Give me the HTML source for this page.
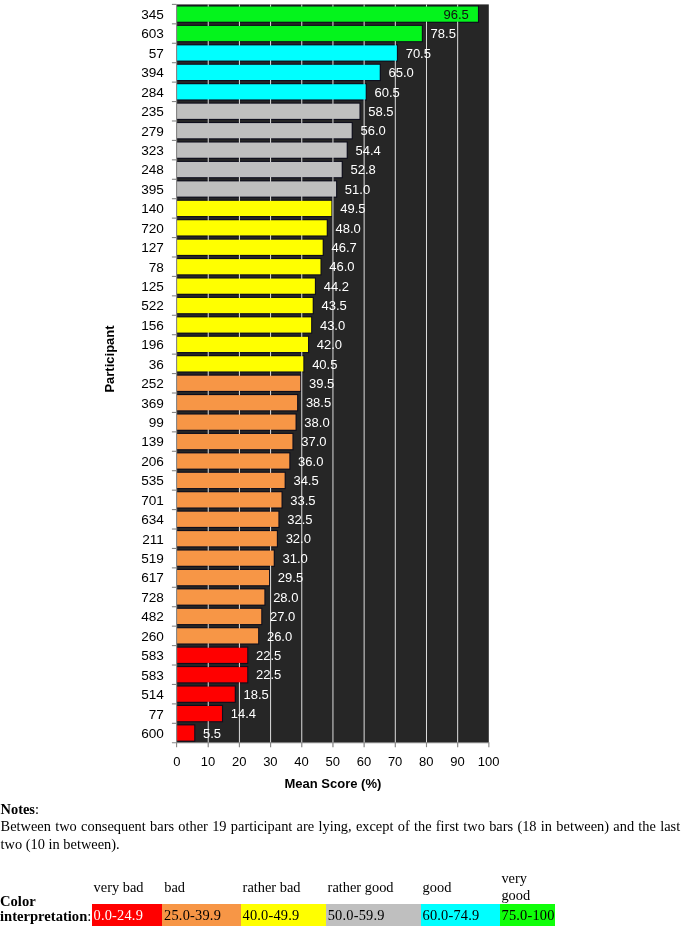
<!DOCTYPE html>
<html><head><meta charset="utf-8"><title>Mean Score chart</title>
<style>
html,body{margin:0;padding:0;background:#fff;}
body{width:685px;height:926px;position:relative;overflow:hidden;font-family:"Liberation Serif","Times New Roman",serif;font-size:14.4px;color:#000;}
.t{position:absolute;white-space:nowrap;line-height:17.2px;}
.notes{position:absolute;left:0.6px;top:801px;width:679.6px;line-height:17.3px;text-align:justify;}
.cell{position:absolute;top:904px;height:22px;}
.cell span{position:absolute;left:1.7px;top:3.4px;line-height:17.2px;white-space:nowrap;letter-spacing:0.2px;}
</style></head><body>
<svg width="685" height="800" viewBox="0 0 685 800" style="position:absolute;left:0;top:0" font-family="'Liberation Sans', Arial, sans-serif" font-size="13">
<rect x="176.6" y="4.4" width="312.20" height="738.34" fill="#262626"/>
<rect x="176.90" y="5.42" width="302.14" height="17.4" fill="#0e0e1c"/>
<rect x="176.90" y="24.84" width="246.01" height="17.4" fill="#0e0e1c"/>
<rect x="176.90" y="44.27" width="221.07" height="17.4" fill="#0e0e1c"/>
<rect x="176.90" y="63.70" width="203.92" height="17.4" fill="#0e0e1c"/>
<rect x="176.90" y="83.14" width="189.89" height="17.4" fill="#0e0e1c"/>
<rect x="176.90" y="102.57" width="183.65" height="17.4" fill="#0e0e1c"/>
<rect x="176.90" y="122.00" width="175.86" height="17.4" fill="#0e0e1c"/>
<rect x="176.90" y="141.43" width="170.87" height="17.4" fill="#0e0e1c"/>
<rect x="176.90" y="160.86" width="165.88" height="17.4" fill="#0e0e1c"/>
<rect x="176.90" y="180.29" width="160.27" height="17.4" fill="#0e0e1c"/>
<rect x="176.90" y="199.72" width="155.59" height="17.4" fill="#0e0e1c"/>
<rect x="176.90" y="219.15" width="150.91" height="17.4" fill="#0e0e1c"/>
<rect x="176.90" y="238.58" width="146.86" height="17.4" fill="#0e0e1c"/>
<rect x="176.90" y="258.00" width="144.68" height="17.4" fill="#0e0e1c"/>
<rect x="176.90" y="277.43" width="139.07" height="17.4" fill="#0e0e1c"/>
<rect x="176.90" y="296.86" width="136.88" height="17.4" fill="#0e0e1c"/>
<rect x="176.90" y="316.29" width="135.32" height="17.4" fill="#0e0e1c"/>
<rect x="176.90" y="335.72" width="132.21" height="17.4" fill="#0e0e1c"/>
<rect x="176.90" y="355.15" width="127.53" height="17.4" fill="#0e0e1c"/>
<rect x="176.90" y="374.58" width="124.41" height="17.4" fill="#0e0e1c"/>
<rect x="176.90" y="394.01" width="121.29" height="17.4" fill="#0e0e1c"/>
<rect x="176.90" y="413.44" width="119.73" height="17.4" fill="#0e0e1c"/>
<rect x="176.90" y="432.87" width="116.62" height="17.4" fill="#0e0e1c"/>
<rect x="176.90" y="452.30" width="113.50" height="17.4" fill="#0e0e1c"/>
<rect x="176.90" y="471.73" width="108.82" height="17.4" fill="#0e0e1c"/>
<rect x="176.90" y="491.16" width="105.70" height="17.4" fill="#0e0e1c"/>
<rect x="176.90" y="510.59" width="102.58" height="17.4" fill="#0e0e1c"/>
<rect x="176.90" y="530.02" width="101.03" height="17.4" fill="#0e0e1c"/>
<rect x="176.90" y="549.45" width="97.91" height="17.4" fill="#0e0e1c"/>
<rect x="176.90" y="568.88" width="93.23" height="17.4" fill="#0e0e1c"/>
<rect x="176.90" y="588.31" width="88.55" height="17.4" fill="#0e0e1c"/>
<rect x="176.90" y="607.75" width="85.44" height="17.4" fill="#0e0e1c"/>
<rect x="176.90" y="627.17" width="82.32" height="17.4" fill="#0e0e1c"/>
<rect x="176.90" y="646.60" width="71.41" height="17.4" fill="#0e0e1c"/>
<rect x="176.90" y="666.03" width="71.41" height="17.4" fill="#0e0e1c"/>
<rect x="176.90" y="685.46" width="58.93" height="17.4" fill="#0e0e1c"/>
<rect x="176.90" y="704.89" width="46.15" height="17.4" fill="#0e0e1c"/>
<rect x="176.90" y="724.32" width="18.40" height="17.4" fill="#0e0e1c"/>
<line x1="208.23" y1="4.4" x2="208.23" y2="747.14" stroke="#dedede" stroke-width="1"/>
<line x1="239.41" y1="4.4" x2="239.41" y2="747.14" stroke="#dedede" stroke-width="1"/>
<line x1="270.59" y1="4.4" x2="270.59" y2="747.14" stroke="#dedede" stroke-width="1"/>
<line x1="301.77" y1="4.4" x2="301.77" y2="747.14" stroke="#dedede" stroke-width="1"/>
<line x1="332.95" y1="4.4" x2="332.95" y2="747.14" stroke="#dedede" stroke-width="1"/>
<line x1="364.13" y1="4.4" x2="364.13" y2="747.14" stroke="#dedede" stroke-width="1"/>
<line x1="395.31" y1="4.4" x2="395.31" y2="747.14" stroke="#dedede" stroke-width="1"/>
<line x1="426.49" y1="4.4" x2="426.49" y2="747.14" stroke="#dedede" stroke-width="1"/>
<line x1="457.67" y1="4.4" x2="457.67" y2="747.14" stroke="#dedede" stroke-width="1"/>
<rect x="176.90" y="6.52" width="301.04" height="15.2" fill="#04F41C"/>
<rect x="176.90" y="25.95" width="244.91" height="15.2" fill="#04F41C"/>
<rect x="176.90" y="45.38" width="219.97" height="15.2" fill="#00FFFF"/>
<rect x="176.90" y="64.80" width="202.82" height="15.2" fill="#00FFFF"/>
<rect x="176.90" y="84.23" width="188.79" height="15.2" fill="#00FFFF"/>
<rect x="176.90" y="103.67" width="182.55" height="15.2" fill="#BFBFBF"/>
<rect x="176.90" y="123.09" width="174.76" height="15.2" fill="#BFBFBF"/>
<rect x="176.90" y="142.53" width="169.77" height="15.2" fill="#BFBFBF"/>
<rect x="176.90" y="161.96" width="164.78" height="15.2" fill="#BFBFBF"/>
<rect x="176.90" y="181.39" width="159.17" height="15.2" fill="#BFBFBF"/>
<rect x="176.90" y="200.82" width="154.49" height="15.2" fill="#FFFF00"/>
<rect x="176.90" y="220.25" width="149.81" height="15.2" fill="#FFFF00"/>
<rect x="176.90" y="239.68" width="145.76" height="15.2" fill="#FFFF00"/>
<rect x="176.90" y="259.11" width="143.58" height="15.2" fill="#FFFF00"/>
<rect x="176.90" y="278.53" width="137.97" height="15.2" fill="#FFFF00"/>
<rect x="176.90" y="297.96" width="135.78" height="15.2" fill="#FFFF00"/>
<rect x="176.90" y="317.39" width="134.22" height="15.2" fill="#FFFF00"/>
<rect x="176.90" y="336.82" width="131.11" height="15.2" fill="#FFFF00"/>
<rect x="176.90" y="356.25" width="126.43" height="15.2" fill="#FFFF00"/>
<rect x="176.90" y="375.69" width="123.31" height="15.2" fill="#F79646"/>
<rect x="176.90" y="395.12" width="120.19" height="15.2" fill="#F79646"/>
<rect x="176.90" y="414.54" width="118.63" height="15.2" fill="#F79646"/>
<rect x="176.90" y="433.97" width="115.52" height="15.2" fill="#F79646"/>
<rect x="176.90" y="453.40" width="112.40" height="15.2" fill="#F79646"/>
<rect x="176.90" y="472.83" width="107.72" height="15.2" fill="#F79646"/>
<rect x="176.90" y="492.26" width="104.60" height="15.2" fill="#F79646"/>
<rect x="176.90" y="511.69" width="101.48" height="15.2" fill="#F79646"/>
<rect x="176.90" y="531.12" width="99.93" height="15.2" fill="#F79646"/>
<rect x="176.90" y="550.55" width="96.81" height="15.2" fill="#F79646"/>
<rect x="176.90" y="569.99" width="92.13" height="15.2" fill="#F79646"/>
<rect x="176.90" y="589.41" width="87.45" height="15.2" fill="#F79646"/>
<rect x="176.90" y="608.85" width="84.34" height="15.2" fill="#F79646"/>
<rect x="176.90" y="628.27" width="81.22" height="15.2" fill="#F79646"/>
<rect x="176.90" y="647.70" width="70.31" height="15.2" fill="#FF0000"/>
<rect x="176.90" y="667.13" width="70.31" height="15.2" fill="#FF0000"/>
<rect x="176.90" y="686.56" width="57.83" height="15.2" fill="#FF0000"/>
<rect x="176.90" y="706.00" width="45.05" height="15.2" fill="#FF0000"/>
<rect x="176.90" y="725.42" width="17.30" height="15.2" fill="#FF0000"/>
<line x1="176.6" y1="4.4" x2="176.6" y2="747.14" stroke="#868686" stroke-width="1.1"/>
<line x1="171.9" y1="742.74" x2="489.35" y2="742.74" stroke="#868686" stroke-width="1.1"/>
<line x1="171.90" y1="4.40" x2="176.6" y2="4.40" stroke="#868686" stroke-width="1.1"/>
<line x1="171.90" y1="23.83" x2="176.6" y2="23.83" stroke="#868686" stroke-width="1.1"/>
<line x1="171.90" y1="43.26" x2="176.6" y2="43.26" stroke="#868686" stroke-width="1.1"/>
<line x1="171.90" y1="62.69" x2="176.6" y2="62.69" stroke="#868686" stroke-width="1.1"/>
<line x1="171.90" y1="82.12" x2="176.6" y2="82.12" stroke="#868686" stroke-width="1.1"/>
<line x1="171.90" y1="101.55" x2="176.6" y2="101.55" stroke="#868686" stroke-width="1.1"/>
<line x1="171.90" y1="120.98" x2="176.6" y2="120.98" stroke="#868686" stroke-width="1.1"/>
<line x1="171.90" y1="140.41" x2="176.6" y2="140.41" stroke="#868686" stroke-width="1.1"/>
<line x1="171.90" y1="159.84" x2="176.6" y2="159.84" stroke="#868686" stroke-width="1.1"/>
<line x1="171.90" y1="179.27" x2="176.6" y2="179.27" stroke="#868686" stroke-width="1.1"/>
<line x1="171.90" y1="198.70" x2="176.6" y2="198.70" stroke="#868686" stroke-width="1.1"/>
<line x1="171.90" y1="218.13" x2="176.6" y2="218.13" stroke="#868686" stroke-width="1.1"/>
<line x1="171.90" y1="237.56" x2="176.6" y2="237.56" stroke="#868686" stroke-width="1.1"/>
<line x1="171.90" y1="256.99" x2="176.6" y2="256.99" stroke="#868686" stroke-width="1.1"/>
<line x1="171.90" y1="276.42" x2="176.6" y2="276.42" stroke="#868686" stroke-width="1.1"/>
<line x1="171.90" y1="295.85" x2="176.6" y2="295.85" stroke="#868686" stroke-width="1.1"/>
<line x1="171.90" y1="315.28" x2="176.6" y2="315.28" stroke="#868686" stroke-width="1.1"/>
<line x1="171.90" y1="334.71" x2="176.6" y2="334.71" stroke="#868686" stroke-width="1.1"/>
<line x1="171.90" y1="354.14" x2="176.6" y2="354.14" stroke="#868686" stroke-width="1.1"/>
<line x1="171.90" y1="373.57" x2="176.6" y2="373.57" stroke="#868686" stroke-width="1.1"/>
<line x1="171.90" y1="393.00" x2="176.6" y2="393.00" stroke="#868686" stroke-width="1.1"/>
<line x1="171.90" y1="412.43" x2="176.6" y2="412.43" stroke="#868686" stroke-width="1.1"/>
<line x1="171.90" y1="431.86" x2="176.6" y2="431.86" stroke="#868686" stroke-width="1.1"/>
<line x1="171.90" y1="451.29" x2="176.6" y2="451.29" stroke="#868686" stroke-width="1.1"/>
<line x1="171.90" y1="470.72" x2="176.6" y2="470.72" stroke="#868686" stroke-width="1.1"/>
<line x1="171.90" y1="490.15" x2="176.6" y2="490.15" stroke="#868686" stroke-width="1.1"/>
<line x1="171.90" y1="509.58" x2="176.6" y2="509.58" stroke="#868686" stroke-width="1.1"/>
<line x1="171.90" y1="529.01" x2="176.6" y2="529.01" stroke="#868686" stroke-width="1.1"/>
<line x1="171.90" y1="548.44" x2="176.6" y2="548.44" stroke="#868686" stroke-width="1.1"/>
<line x1="171.90" y1="567.87" x2="176.6" y2="567.87" stroke="#868686" stroke-width="1.1"/>
<line x1="171.90" y1="587.30" x2="176.6" y2="587.30" stroke="#868686" stroke-width="1.1"/>
<line x1="171.90" y1="606.73" x2="176.6" y2="606.73" stroke="#868686" stroke-width="1.1"/>
<line x1="171.90" y1="626.16" x2="176.6" y2="626.16" stroke="#868686" stroke-width="1.1"/>
<line x1="171.90" y1="645.59" x2="176.6" y2="645.59" stroke="#868686" stroke-width="1.1"/>
<line x1="171.90" y1="665.02" x2="176.6" y2="665.02" stroke="#868686" stroke-width="1.1"/>
<line x1="171.90" y1="684.45" x2="176.6" y2="684.45" stroke="#868686" stroke-width="1.1"/>
<line x1="171.90" y1="703.88" x2="176.6" y2="703.88" stroke="#868686" stroke-width="1.1"/>
<line x1="171.90" y1="723.31" x2="176.6" y2="723.31" stroke="#868686" stroke-width="1.1"/>
<line x1="208.23" y1="742.74" x2="208.23" y2="747.14" stroke="#868686" stroke-width="1.1"/>
<line x1="239.41" y1="742.74" x2="239.41" y2="747.14" stroke="#868686" stroke-width="1.1"/>
<line x1="270.59" y1="742.74" x2="270.59" y2="747.14" stroke="#868686" stroke-width="1.1"/>
<line x1="301.77" y1="742.74" x2="301.77" y2="747.14" stroke="#868686" stroke-width="1.1"/>
<line x1="332.95" y1="742.74" x2="332.95" y2="747.14" stroke="#868686" stroke-width="1.1"/>
<line x1="364.13" y1="742.74" x2="364.13" y2="747.14" stroke="#868686" stroke-width="1.1"/>
<line x1="395.31" y1="742.74" x2="395.31" y2="747.14" stroke="#868686" stroke-width="1.1"/>
<line x1="426.49" y1="742.74" x2="426.49" y2="747.14" stroke="#868686" stroke-width="1.1"/>
<line x1="457.67" y1="742.74" x2="457.67" y2="747.14" stroke="#868686" stroke-width="1.1"/>
<line x1="488.85" y1="742.74" x2="488.85" y2="747.14" stroke="#868686" stroke-width="1.1"/>
<text x="163.9" y="19.02" text-anchor="end" fill="#000" font-size="13.6">345</text>
<text x="468.8" y="18.82" text-anchor="end" fill="#111">96.5</text>
<text x="163.9" y="38.45" text-anchor="end" fill="#000" font-size="13.6">603</text>
<text x="430.61" y="38.25" fill="#fff">78.5</text>
<text x="163.9" y="57.87" text-anchor="end" fill="#000" font-size="13.6">57</text>
<text x="405.67" y="57.67" fill="#fff">70.5</text>
<text x="163.9" y="77.31" text-anchor="end" fill="#000" font-size="13.6">394</text>
<text x="388.52" y="77.11" fill="#fff">65.0</text>
<text x="163.9" y="96.74" text-anchor="end" fill="#000" font-size="13.6">284</text>
<text x="374.49" y="96.54" fill="#fff">60.5</text>
<text x="163.9" y="116.17" text-anchor="end" fill="#000" font-size="13.6">235</text>
<text x="368.25" y="115.97" fill="#fff">58.5</text>
<text x="163.9" y="135.59" text-anchor="end" fill="#000" font-size="13.6">279</text>
<text x="360.46" y="135.39" fill="#fff">56.0</text>
<text x="163.9" y="155.03" text-anchor="end" fill="#000" font-size="13.6">323</text>
<text x="355.47" y="154.82" fill="#fff">54.4</text>
<text x="163.9" y="174.46" text-anchor="end" fill="#000" font-size="13.6">248</text>
<text x="350.48" y="174.25" fill="#fff">52.8</text>
<text x="163.9" y="193.89" text-anchor="end" fill="#000" font-size="13.6">395</text>
<text x="344.87" y="193.69" fill="#fff">51.0</text>
<text x="163.9" y="213.32" text-anchor="end" fill="#000" font-size="13.6">140</text>
<text x="340.19" y="213.12" fill="#fff">49.5</text>
<text x="163.9" y="232.75" text-anchor="end" fill="#000" font-size="13.6">720</text>
<text x="335.51" y="232.54" fill="#fff">48.0</text>
<text x="163.9" y="252.18" text-anchor="end" fill="#000" font-size="13.6">127</text>
<text x="331.46" y="251.97" fill="#fff">46.7</text>
<text x="163.9" y="271.60" text-anchor="end" fill="#000" font-size="13.6">78</text>
<text x="329.28" y="271.40" fill="#fff">46.0</text>
<text x="163.9" y="291.03" text-anchor="end" fill="#000" font-size="13.6">125</text>
<text x="323.67" y="290.83" fill="#fff">44.2</text>
<text x="163.9" y="310.46" text-anchor="end" fill="#000" font-size="13.6">522</text>
<text x="321.48" y="310.26" fill="#fff">43.5</text>
<text x="163.9" y="329.89" text-anchor="end" fill="#000" font-size="13.6">156</text>
<text x="319.92" y="329.69" fill="#fff">43.0</text>
<text x="163.9" y="349.32" text-anchor="end" fill="#000" font-size="13.6">196</text>
<text x="316.81" y="349.12" fill="#fff">42.0</text>
<text x="163.9" y="368.75" text-anchor="end" fill="#000" font-size="13.6">36</text>
<text x="312.13" y="368.55" fill="#fff">40.5</text>
<text x="163.9" y="388.18" text-anchor="end" fill="#000" font-size="13.6">252</text>
<text x="309.01" y="387.98" fill="#fff">39.5</text>
<text x="163.9" y="407.61" text-anchor="end" fill="#000" font-size="13.6">369</text>
<text x="305.89" y="407.41" fill="#fff">38.5</text>
<text x="163.9" y="427.04" text-anchor="end" fill="#000" font-size="13.6">99</text>
<text x="304.33" y="426.84" fill="#fff">38.0</text>
<text x="163.9" y="446.47" text-anchor="end" fill="#000" font-size="13.6">139</text>
<text x="301.22" y="446.27" fill="#fff">37.0</text>
<text x="163.9" y="465.90" text-anchor="end" fill="#000" font-size="13.6">206</text>
<text x="298.10" y="465.70" fill="#fff">36.0</text>
<text x="163.9" y="485.33" text-anchor="end" fill="#000" font-size="13.6">535</text>
<text x="293.42" y="485.13" fill="#fff">34.5</text>
<text x="163.9" y="504.76" text-anchor="end" fill="#000" font-size="13.6">701</text>
<text x="290.30" y="504.56" fill="#fff">33.5</text>
<text x="163.9" y="524.19" text-anchor="end" fill="#000" font-size="13.6">634</text>
<text x="287.19" y="524.00" fill="#fff">32.5</text>
<text x="163.9" y="543.62" text-anchor="end" fill="#000" font-size="13.6">211</text>
<text x="285.63" y="543.43" fill="#fff">32.0</text>
<text x="163.9" y="563.05" text-anchor="end" fill="#000" font-size="13.6">519</text>
<text x="282.51" y="562.86" fill="#fff">31.0</text>
<text x="163.9" y="582.49" text-anchor="end" fill="#000" font-size="13.6">617</text>
<text x="277.83" y="582.29" fill="#fff">29.5</text>
<text x="163.9" y="601.91" text-anchor="end" fill="#000" font-size="13.6">728</text>
<text x="273.15" y="601.72" fill="#fff">28.0</text>
<text x="163.9" y="621.35" text-anchor="end" fill="#000" font-size="13.6">482</text>
<text x="270.04" y="621.15" fill="#fff">27.0</text>
<text x="163.9" y="640.77" text-anchor="end" fill="#000" font-size="13.6">260</text>
<text x="266.92" y="640.58" fill="#fff">26.0</text>
<text x="163.9" y="660.20" text-anchor="end" fill="#000" font-size="13.6">583</text>
<text x="256.00" y="660.00" fill="#fff">22.5</text>
<text x="163.9" y="679.63" text-anchor="end" fill="#000" font-size="13.6">583</text>
<text x="256.00" y="679.44" fill="#fff">22.5</text>
<text x="163.9" y="699.06" text-anchor="end" fill="#000" font-size="13.6">514</text>
<text x="243.53" y="698.87" fill="#fff">18.5</text>
<text x="163.9" y="718.50" text-anchor="end" fill="#000" font-size="13.6">77</text>
<text x="230.75" y="718.30" fill="#fff">14.4</text>
<text x="163.9" y="737.92" text-anchor="end" fill="#000" font-size="13.6">600</text>
<text x="203.00" y="737.73" fill="#fff">5.5</text>
<text x="176.85" y="766.1" text-anchor="middle" fill="#000">0</text>
<text x="208.03" y="766.1" text-anchor="middle" fill="#000">10</text>
<text x="239.21" y="766.1" text-anchor="middle" fill="#000">20</text>
<text x="270.39" y="766.1" text-anchor="middle" fill="#000">30</text>
<text x="301.57" y="766.1" text-anchor="middle" fill="#000">40</text>
<text x="332.75" y="766.1" text-anchor="middle" fill="#000">50</text>
<text x="363.93" y="766.1" text-anchor="middle" fill="#000">60</text>
<text x="395.11" y="766.1" text-anchor="middle" fill="#000">70</text>
<text x="426.29" y="766.1" text-anchor="middle" fill="#000">80</text>
<text x="457.47" y="766.1" text-anchor="middle" fill="#000">90</text>
<text x="488.65" y="766.1" text-anchor="middle" fill="#000">100</text>
<text x="332.9" y="788.3" text-anchor="middle" font-weight="bold" fill="#000">Mean Score (%)</text>
<text transform="translate(114,359) rotate(-90)" text-anchor="middle" font-weight="bold" fill="#000">Participant</text>
</svg>
<div class="notes"><b>Notes</b>:<br>Between two consequent bars other 19 participant are lying, except of the first two bars (18 in between) and the last two (10 in between).</div>
<div class="t" style="left:0px;top:893.8px;line-height:15.6px;font-weight:bold;font-size:14.6px">Color<br>interpretation<span style="font-weight:normal">:</span></div>
<div class="t" style="left:93.6px;top:879px">very bad</div>
<div class="t" style="left:164.2px;top:879px">bad</div>
<div class="t" style="left:242.6px;top:879px">rather bad</div>
<div class="t" style="left:327.6px;top:879px">rather good</div>
<div class="t" style="left:422.6px;top:879px">good</div>
<div class="t" style="left:501.4px;top:870px">very<br>good</div>
<div class="cell" style="left:91.8px;width:70.6px;background:#FF0000;color:#fff"><span>0.0-24.9</span></div>
<div class="cell" style="left:162.4px;width:78.4px;background:#F79646"><span>25.0-39.9</span></div>
<div class="cell" style="left:240.8px;width:85.2px;background:#FFFF00"><span>40.0-49.9</span></div>
<div class="cell" style="left:326px;width:94.8px;background:#BFBFBF"><span>50.0-59.9</span></div>
<div class="cell" style="left:420.8px;width:79px;background:#00FFFF"><span>60.0-74.9</span></div>
<div class="cell" style="left:499.8px;width:55.3px;background:#10FF0A"><span>75.0-100</span></div>
</body></html>
